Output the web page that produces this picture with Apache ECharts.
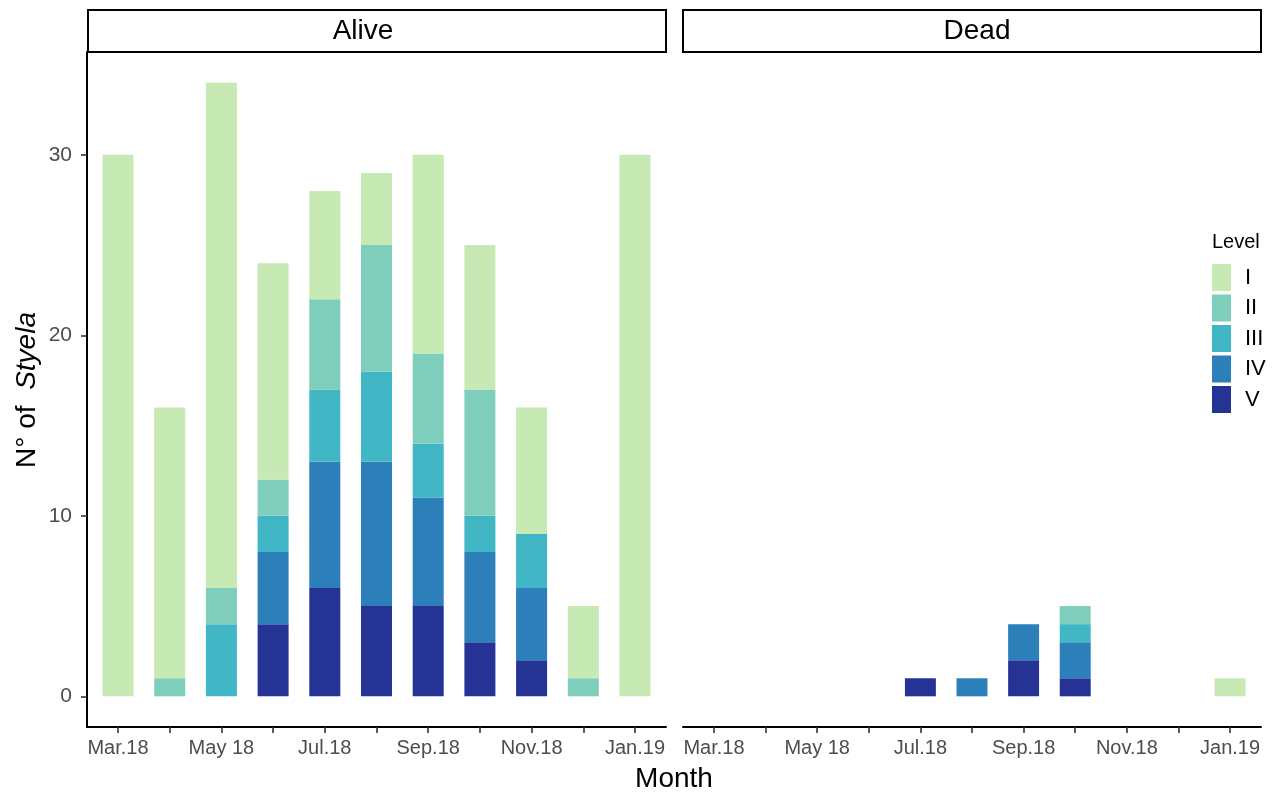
<!DOCTYPE html>
<html>
<head>
<meta charset="utf-8">
<script src="https://cdn.jsdelivr.net/npm/echarts@6/dist/echarts.min.js"></script>
<style>
html,body{margin:0;padding:0;background:#fff;}
#chart{width:1288px;height:799px;}
</style>
</head>
<body>
<div id="chart"></div>
<script>
// ---- data ----
const months = ['Mar.18','Apr.18','May 18','Jun.18','Jul.18','Aug.18','Sep.18','Oct.18','Nov.18','Dec.18','Jan.19'];
const levels = ['I','II','III','IV','V'];
const yTicks = [0, 10, 20, 30];

const aliveI   = [30,15,28,12, 6, 4,11, 8, 7, 4,30];
const aliveII  = [ 0, 1, 2, 2, 5, 7, 5, 7, 0, 1, 0];
const aliveIII = [ 0, 0, 4, 2, 4, 5, 3, 2, 3, 0, 0];
const aliveIV  = [ 0, 0, 0, 4, 7, 8, 6, 5, 4, 0, 0];
const aliveV   = [ 0, 0, 0, 4, 6, 5, 5, 3, 2, 0, 0];

const deadI   = [0,0,0,0,0,0,0,0,0,0,1];
const deadII  = [0,0,0,0,0,0,0,1,0,0,0];
const deadIII = [0,0,0,0,0,0,0,1,0,0,0];
const deadIV  = [0,0,0,0,0,1,2,2,0,0,0];
const deadV   = [0,0,0,0,1,0,2,1,0,0,0];

const colors = {I:'#c7e9b4', II:'#7fcdbb', III:'#41b6c4', IV:'#2c7fb8', V:'#253494'};

// ---- layout ----
const FONT = '"Liberation Sans", Arial, sans-serif';
const TOP = 52, BOTTOM = 727, H = BOTTOM - TOP;
const YMIN = -1.7, YMAX = 35.7;
const panels = [{left:87, right:666}, {left:683, right:1261}];

const grids = [], xAxes = [], yAxes = [];
panels.forEach((p, pi) => {
  const w = p.right - p.left;
  const band = w / 11.2;
  grids.push({left:p.left, top:TOP, width:w, height:H, containLabel:false});
  grids.push({left:p.left + 0.1*band, top:TOP, width:11*band, height:H, containLabel:false});
  const gLine = pi*2, gBar = pi*2+1;
  xAxes.push({
    type:'value', gridIndex:gLine, min:0, max:1,
    axisLine:{show:true, onZero:false, lineStyle:{color:'#000', width:2}},
    axisTick:{show:false}, axisLabel:{show:false}, splitLine:{show:false}
  });
  xAxes.push({
    type:'category', gridIndex:gBar, data:months,
    axisLine:{show:false, onZero:false},
    axisTick:{show:true, alignWithLabel:true, interval:0, length:6, lineStyle:{color:'#333', width:1.6}},
    axisLabel:{interval:1, margin:11, fontFamily:FONT, fontSize:20, color:'#4d4d4d'},
    splitLine:{show:false}
  });
  if (pi === 0) {
    yAxes.push({
      type:'value', gridIndex:gLine, min:YMIN, max:YMAX,
      axisLine:{show:true, onZero:false, lineStyle:{color:'#000', width:2}},
      axisTick:{show:true, length:6, customValues:yTicks, lineStyle:{color:'#333', width:1.6}},
      axisLabel:{show:true, margin:15, customValues:yTicks, fontFamily:FONT, fontSize:21, color:'#4d4d4d'},
      splitLine:{show:false}
    });
  } else {
    yAxes.push({type:'value', gridIndex:gLine, min:YMIN, max:YMAX, show:false, splitLine:{show:false}});
  }
  yAxes.push({type:'value', gridIndex:gBar, min:YMIN, max:YMAX, show:false, splitLine:{show:false}});
});

const aliveData = {I:aliveI, II:aliveII, III:aliveIII, IV:aliveIV, V:aliveV};
const deadData  = {I:deadI, II:deadII, III:deadIII, IV:deadIV, V:deadV};
const series = [];
[aliveData, deadData].forEach((d, pi) => {
  ['V','IV','III','II','I'].forEach(lv => {
    series.push({
      type:'bar', name:lv, stack:'p'+pi,
      xAxisIndex:pi*2+1, yAxisIndex:pi*2+1,
      data:d[lv], barWidth:'60%',
      itemStyle:{color:colors[lv]},
      emphasis:{disabled:true}
    });
  });
});

const graphics = [
  {type:'rect', shape:{x:88, y:10, width:578, height:42}, style:{fill:'#fff', stroke:'#000', lineWidth:2}},
  {type:'rect', shape:{x:683, y:10, width:578, height:42}, style:{fill:'#fff', stroke:'#000', lineWidth:2}},
  {type:'text', x:363, y:31, style:{text:'Alive', font:'28px '+FONT, fill:'#000', align:'center', verticalAlign:'middle'}},
  {type:'text', x:977, y:31, style:{text:'Dead', font:'28px '+FONT, fill:'#000', align:'center', verticalAlign:'middle'}},
  {type:'text', x:674, y:779, style:{text:'Month', font:'28px '+FONT, fill:'#000', align:'center', verticalAlign:'middle'}},
  {type:'text', x:27, y:390, rotation:Math.PI/2,
    style:{text:'{a|N° of  }{b|Styela}', align:'center', verticalAlign:'middle',
      rich:{a:{fontFamily:FONT, fontSize:28, fill:'#000'}, b:{fontFamily:FONT, fontSize:28, fontStyle:'italic', fill:'#000'}}}},
  {type:'text', x:1212, y:242, style:{text:'Level', font:'20px '+FONT, fill:'#000', align:'left', verticalAlign:'middle'}}
];

const chart = echarts.init(document.getElementById('chart'), null, {renderer:'canvas'});
chart.setOption({
  animation:false,
  backgroundColor:'#fff',
  grid:grids, xAxis:xAxes, yAxis:yAxes, series:series,
  legend:{
    data:levels, orient:'vertical', left:1212, top:264, padding:0,
    itemWidth:19, itemHeight:27, itemGap:3.5, icon:'rect',
    selectedMode:false,
    textStyle:{fontFamily:FONT, fontSize:22, color:'#000', padding:[0,0,0,9]}
  },
  graphic:graphics
});
</script>
</body>
</html>
